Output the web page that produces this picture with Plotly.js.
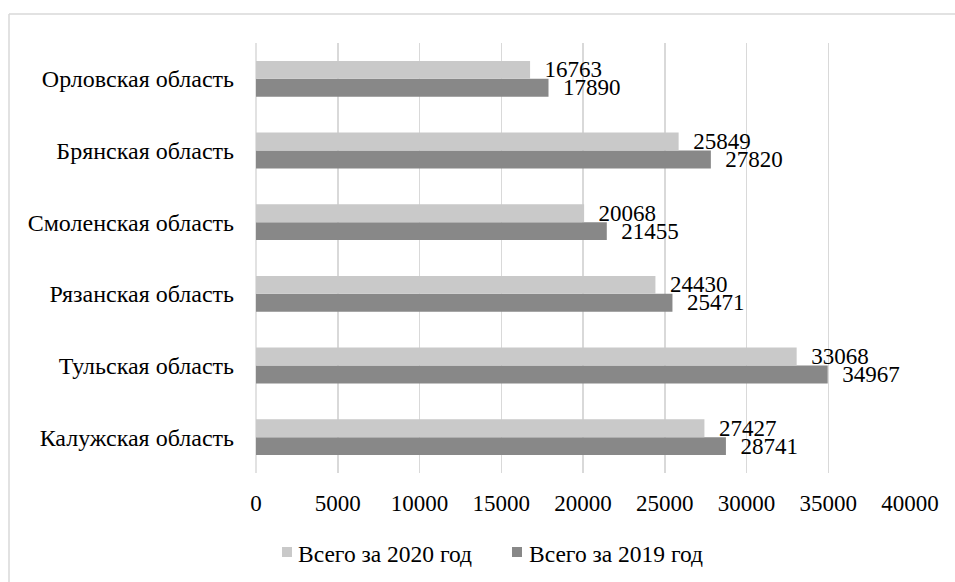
<!DOCTYPE html>
<html>
<head>
<meta charset="utf-8">
<script src="https://cdn.plot.ly/plotly-3.0.1.min.js"></script>
<style>
html,body{margin:0;padding:0;background:#fff;overflow:hidden;}
#chart{width:955px;height:582px;}
</style>
</head>
<body>
<div id="chart"></div>
<script>
// Categories bottom to top
var regions = ["Калужская область", "Тульская область", "Рязанская область", "Смоленская область", "Брянская область", "Орловская область"];
var values2020 = [27427, 33068, 24430, 20068, 25849, 16763];
var values2019 = [28741, 34967, 25471, 21455, 27820, 17890];
var name2020 = "Всего за 2020 год";
var name2019 = "Всего за 2019 год";
var xTicks = [0, 5000, 10000, 15000, 20000, 25000, 30000, 35000, 40000];

var color2020 = "#c9c9c9";
var color2019 = "#888888";

var FONT = "Liberation Serif";
var fs = 23;
var pad = "\u00a0\u00a0";

var t2019 = {
  type: "bar", orientation: "h", name: name2019,
  y: regions, x: values2019,
  text: values2019.map(String), texttemplate: pad + "%{text}",
  textposition: "outside", constraintext: "none", cliponaxis: false,
  textfont: {family: FONT, size: fs, color: "#000"},
  marker: {color: color2019}, hoverinfo: "skip", showlegend: false
};
var t2020 = {
  type: "bar", orientation: "h", name: name2020,
  y: regions, x: values2020,
  text: values2020.map(String), texttemplate: pad + "%{text}",
  textposition: "outside", constraintext: "none", cliponaxis: false,
  textfont: {family: FONT, size: fs, color: "#000"},
  marker: {color: color2020}, hoverinfo: "skip", showlegend: false
};

var L = 256, R = 910, T = 43, B = 473, W = 955, H = 582;
var pw = R - L, ph = B - T;
function px(x){ return (x - L) / pw; }
function py(y){ return (B - y) / ph; }

function legendSquare(x, color){
  return {type: "rect", xref: "paper", yref: "paper", x0: px(x), x1: px(x + 10),
          y0: py(557), y1: py(547), line: {width: 0}, fillcolor: color, layer: "above"};
}
function legendText(x, txt){
  return {xref: "paper", yref: "paper", x: px(x), y: py(554), xanchor: "left", yanchor: "middle",
          text: txt, showarrow: false, borderpad: 0,
          font: {family: FONT, size: 23.5, color: "#000"}};
}

var layout = {
  width: W, height: H,
  margin: {l: L, r: W - R, t: T, b: H - B, pad: 0},
  paper_bgcolor: "#fff", plot_bgcolor: "#fff",
  font: {family: FONT, size: fs, color: "#000"},
  barmode: "group", bargap: 0.5, bargroupgap: 0,
  showlegend: false,
  xaxis: {range: [0, 40000], tickvals: xTicks, ticktext: xTicks.map(String),
          tickfont: {family: FONT, size: fs, color: "#000"},
          showgrid: true, gridcolor: "#d9d9d9", gridwidth: 1.5, zeroline: false,
          showline: false, ticks: "", ticklabelstandoff: 14, fixedrange: true},
  yaxis: {type: "category", categoryorder: "array", categoryarray: regions,
          tickfont: {family: FONT, size: 24, color: "#000"},
          showgrid: false, zeroline: false, showline: false, ticks: "",
          ticklabelstandoff: 21, fixedrange: true},
  shapes: [
    {type: "line", xref: "paper", yref: "paper", x0: 0, x1: 0, y0: 0, y1: 1,
     line: {color: "#d9d9d9", width: 1.5}, layer: "below"},
    {type: "line", xref: "paper", yref: "paper", x0: px(9), x1: px(9), y0: py(14), y1: py(582),
     line: {color: "#d9d9d9", width: 1.5}, layer: "below"},
    {type: "line", xref: "paper", yref: "paper", x0: px(9), x1: px(955), y0: py(14), y1: py(14),
     line: {color: "#d9d9d9", width: 1.5}, layer: "below"},
    legendSquare(282, color2020),
    legendSquare(512, color2019)
  ],
  annotations: [
    legendText(297, name2020),
    legendText(528, name2019)
  ]
};

Plotly.newPlot("chart", [t2019, t2020], layout, {displayModeBar: false, staticPlot: true});
</script>
</body>
</html>
